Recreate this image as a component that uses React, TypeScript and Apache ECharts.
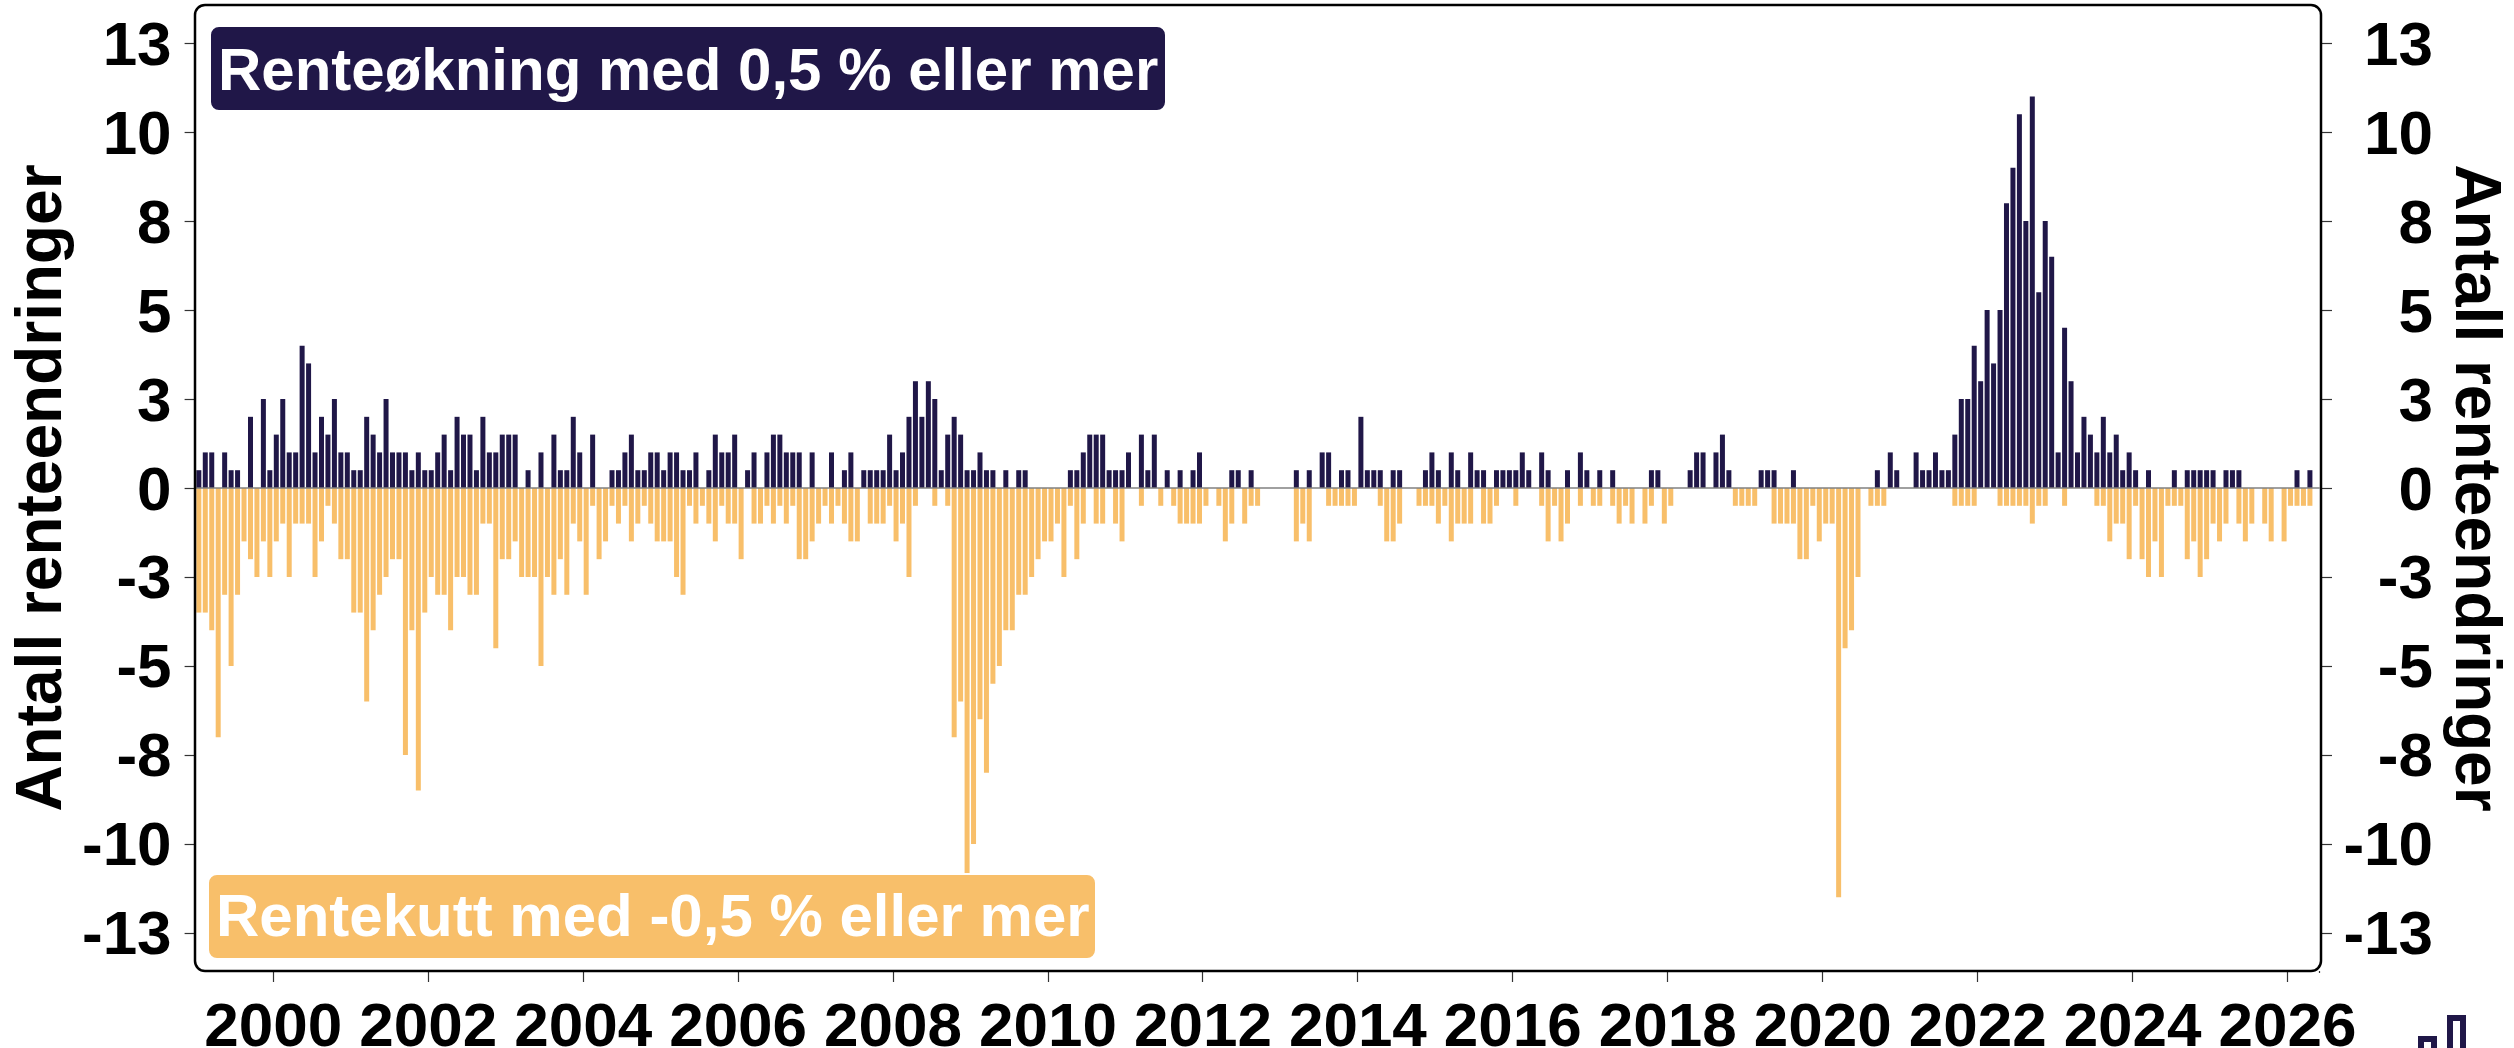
import React, { useEffect, useRef } from "react";
import * as echarts from "echarts";

const firstYear = 1999;
const monthCount = 329; // Jan 1999 .. May 2026 (the last month has no bars yet)
const categories = Array.from({ length: monthCount }, (_, i) => {
  const y = firstYear + Math.floor(i / 12);
  const m = (i % 12) + 1;
  return `${y}-${String(m).padStart(2, "0")}`;
});
const yTicks = [-12.5, -10, -7.5, -5, -2.5, 0, 2.5, 5, 7.5, 10, 12.5];
const yTickLabels: Record<string, string> = {
  "-12.5": "-13", "-10": "-10", "-7.5": "-8", "-5": "-5", "-2.5": "-3", "0": "0",
  "2.5": "3", "5": "5", "7.5": "8", "10": "10", "12.5": "13",
};

const renteokning = [
  0.5, 1, 1, 0, 1, 0.5, 0.5, 0, 2, 0, 2.5, 0.5,
  1.5, 2.5, 1, 1, 4, 3.5, 1, 2, 1.5, 2.5, 1, 1,
  0.5, 0.5, 2, 1.5, 1, 2.5, 1, 1, 1, 0.5, 1, 0.5,
  0.5, 1, 1.5, 0.5, 2, 1.5, 1.5, 0.5, 2, 1, 1, 1.5,
  1.5, 1.5, 0, 0.5, 0, 1, 0, 1.5, 0.5, 0.5, 2, 1,
  0, 1.5, 0, 0, 0.5, 0.5, 1, 1.5, 0.5, 0.5, 1, 1,
  0.5, 1, 1, 0.5, 0.5, 1, 0, 0.5, 1.5, 1, 1, 1.5,
  0, 0.5, 1, 0, 1, 1.5, 1.5, 1, 1, 1, 0, 1,
  0, 0, 1, 0, 0.5, 1, 0, 0.5, 0.5, 0.5, 0.5, 1.5,
  0.5, 1, 2, 3, 2, 3, 2.5, 0.5, 1.5, 2, 1.5, 0.5,
  0.5, 1, 0.5, 0.5, 0, 0.5, 0, 0.5, 0.5, 0, 0, 0,
  0, 0, 0, 0.5, 0.5, 1, 1.5, 1.5, 1.5, 0.5, 0.5, 0.5,
  1, 0, 1.5, 0.5, 1.5, 0, 0.5, 0, 0.5, 0, 0.5, 1,
  0, 0, 0, 0, 0.5, 0.5, 0, 0.5, 0, 0, 0, 0,
  0, 0, 0.5, 0, 0.5, 0, 1, 1, 0, 0.5, 0.5, 0,
  2, 0.5, 0.5, 0.5, 0, 0.5, 0.5, 0, 0, 0, 0.5, 1,
  0.5, 0, 1, 0.5, 0, 1, 0.5, 0.5, 0, 0.5, 0.5, 0.5,
  0.5, 1, 0.5, 0, 1, 0.5, 0, 0, 0.5, 0, 1, 0.5,
  0, 0.5, 0, 0.5, 0, 0, 0, 0, 0, 0.5, 0.5, 0,
  0, 0, 0, 0.5, 1, 1, 0, 1, 1.5, 0.5, 0, 0,
  0, 0, 0.5, 0.5, 0.5, 0, 0, 0.5, 0, 0, 0, 0,
  0, 0, 0, 0, 0, 0, 0, 0, 0.5, 0, 1, 0.5,
  0, 0, 1, 0.5, 0.5, 1, 0.5, 0.5, 1.5, 2.5, 2.5, 4,
  3, 5, 3.5, 5, 8, 9, 10.5, 7.5, 11, 5.5, 7.5, 6.5,
  1, 4.5, 3, 1, 2, 1.5, 1, 2, 1, 1.5, 0.5, 1,
  0.5, 0, 0.5, 0, 0, 0, 0.5, 0, 0.5, 0.5, 0.5, 0.5,
  0.5, 0, 0.5, 0.5, 0.5, 0, 0, 0, 0, 0, 0, 0,
  0, 0.5, 0, 0.5,
];

const rentekutt = [
  -3.5, -3.5, -4, -7, -3, -5, -3, -1.5, -2, -2.5, -1.5, -2.5,
  -1.5, -1, -2.5, -1, -1, -1, -2.5, -1.5, -0.5, -1, -2, -2,
  -3.5, -3.5, -6, -4, -3, -2.5, -2, -2, -7.5, -4, -8.5, -3.5,
  -2.5, -3, -3, -4, -2.5, -2.5, -3, -3, -1, -1, -4.5, -2,
  -2, -1.5, -2.5, -2.5, -2.5, -5, -2.5, -3, -2, -3, -1, -1.5,
  -3, -0.5, -2, -1.5, -0.5, -1, -0.5, -1.5, -1, -0.5, -1, -1.5,
  -1.5, -1.5, -2.5, -3, -0.5, -1, -0.5, -1, -1.5, -0.5, -1, -1,
  -2, 0, -1, -1, -0.5, -1, -0.5, -1, -0.5, -2, -2, -1.5,
  -1, -0.5, -1, -0.5, -1, -1.5, -1.5, 0, -1, -1, -1, -0.5,
  -1.5, -1, -2.5, -0.5, 0, 0, -0.5, 0, -0.5, -7, -6, -11,
  -10, -6.5, -8, -5.5, -5, -4, -4, -3, -3, -2.5, -2, -1.5,
  -1.5, -1, -2.5, -0.5, -2, -1, 0, -1, -1, 0, -1, -1.5,
  0, 0, -0.5, 0, 0, -0.5, 0, -0.5, -1, -1, -1, -1,
  -0.5, 0, -0.5, -1.5, -1, 0, -1, -0.5, -0.5, 0, 0, 0,
  0, 0, -1.5, -1, -1.5, 0, 0, -0.5, -0.5, -0.5, -0.5, -0.5,
  0, 0, 0, -0.5, -1.5, -1.5, -1, 0, 0, -0.5, -0.5, -0.5,
  -1, -0.5, -1.5, -1, -1, -1, 0, -1, -1, -0.5, 0, 0,
  -0.5, 0, 0, 0, -0.5, -1.5, -0.5, -1.5, -1, 0, -0.5, 0,
  -0.5, -0.5, 0, -0.5, -1, -0.5, -1, 0, -1, -0.5, 0, -1,
  -0.5, 0, 0, 0, 0, 0, 0, 0, 0, 0, -0.5, -0.5,
  -0.5, -0.5, 0, 0, -1, -1, -1, -1, -2, -2, -0.5, -1.5,
  -1, -1, -11.5, -4.5, -4, -2.5, 0, -0.5, -0.5, -0.5, 0, 0,
  0, 0, 0, 0, 0, 0, 0, 0, -0.5, -0.5, -0.5, -0.5,
  0, 0, 0, -0.5, -0.5, -0.5, -0.5, -0.5, -1, -0.5, -0.5, 0,
  0, -0.5, 0, 0, 0, 0, -0.5, -0.5, -1.5, -1, -1, -2,
  -0.5, -2, -2.5, -1.5, -2.5, -0.5, -0.5, -0.5, -2, -1.5, -2.5, -2,
  -1, -1.5, -1, 0, -1, -1.5, -1, 0, -1, -1.5, 0, -1.5,
  -0.5, -0.5, -0.5, -0.5,
];

const DARK = "#201748";
const ORANGE = "#F8BF6A";
const FONT = "'Liberation Sans', Arial, sans-serif";

const isYearTick = (_: number, v: string) => v.endsWith("-01") && Number(v.slice(0, 4)) % 2 === 0;

export default function App() {
  const ref = useRef<HTMLDivElement>(null);
  useEffect(() => {
    if (!ref.current) return;
    const chart = echarts.init(ref.current, undefined, { renderer: "svg" });
    const yBase = {
      type: "value",
      min: -13.57,
      max: 13.57,
      name: "Antall renteendringer",
      nameLocation: "middle",
      nameTextStyle: { fontFamily: FONT, fontWeight: "bold", fontSize: 64, color: "#000" },
      splitLine: { show: false },
      axisLine: { show: false },
      axisTick: { show: true, length: 11, customValues: yTicks, lineStyle: { color: "#333", width: 1.2 } },
    };
    const yLabel = {
      show: true,
      customValues: yTicks,
      fontFamily: FONT,
      fontWeight: "bold",
      fontSize: 62,
      color: "#000",
      formatter: (v: number) => yTickLabels[String(v)] ?? String(v),
    };
    chart.setOption({
      animation: false,
      backgroundColor: "#fff",
      grid: { left: 195.6, top: 5, width: 2124, height: 966, containLabel: false, outerBoundsMode: "none" },
      xAxis: {
        type: "category",
        data: categories,
        position: "bottom",
        boundaryGap: true,
        splitLine: { show: false },
        axisLine: { show: false, onZero: false },
        axisTick: { show: true, length: 11, interval: isYearTick, alignWithLabel: false, lineStyle: { color: "#333", width: 1.2 } },
        axisLabel: {
          show: true,
          interval: isYearTick,
          margin: 22,
          padding: [0, 6, 0, 0],
          fontFamily: FONT,
          fontWeight: "bold",
          fontSize: 62,
          color: "#000",
          formatter: (v: string) => v.slice(0, 4),
        },
      },
      yAxis: [
        { ...yBase, position: "left", nameGap: 120, axisLabel: { ...yLabel, margin: 24 } },
        { ...yBase, position: "right", offset: 1.4, nameGap: 125, nameRotate: -90, axisLabel: { ...yLabel, margin: 112, align: "right" } },
      ],
      series: [
        {
          name: "Rentekutt",
          type: "bar",
          data: rentekutt,
          barWidth: 5,
          barGap: "-100%",
          itemStyle: { color: ORANGE },
          markLine: {
            silent: true,
            symbol: "none",
            label: { show: false },
            lineStyle: { color: "#808080", width: 1.5, type: "solid" },
            data: [{ yAxis: 0 }],
          },
        },
        {
          name: "Renteøkning",
          type: "bar",
          data: renteokning,
          barWidth: 5,
          barGap: "-100%",
          itemStyle: { color: DARK },
        },
      ],
      graphic: [
        { type: "rect", z: 49, shape: { x: 2312, y: 973, width: 20, height: 16 }, style: { fill: "#fff" } },
        { type: "rect", z: 50, shape: { x: 195, y: 5, width: 2126, height: 966, r: 10 }, style: { fill: "none", stroke: "#000", lineWidth: 2.5 } },
        { type: "rect", z: 51, shape: { x: 210, y: 26, width: 956, height: 85, r: 9 }, style: { fill: DARK, stroke: "#fff", lineWidth: 2 } },
        { type: "text", z: 52, x: 218, y: 69, style: { text: "Renteøkning med 0,5 % eller mer", fill: "#fff", font: `bold 60px ${FONT}`, textAlign: "left", textVerticalAlign: "middle" } },
        { type: "rect", z: 51, shape: { x: 208, y: 874, width: 888, height: 85, r: 9 }, style: { fill: ORANGE, stroke: "#fff", lineWidth: 2 } },
        { type: "text", z: 52, x: 216, y: 915, style: { text: "Rentekutt med -0,5 % eller mer", fill: "#fff", font: `bold 60px ${FONT}`, textAlign: "left", textVerticalAlign: "middle" } },
        { type: "rect", z: 53, shape: { x: 2421, y: 1039, width: 13, height: 30 }, style: { fill: "none", stroke: DARK, lineWidth: 6 } },
        { type: "rect", z: 53, shape: { x: 2450, y: 1018, width: 13, height: 50 }, style: { fill: "none", stroke: DARK, lineWidth: 6 } },
      ],
    });
    return () => chart.dispose();
  }, []);
  return <div ref={ref} style={{ position: "absolute", left: 0, top: 0, width: 2514, height: 1048 }} />;
}
